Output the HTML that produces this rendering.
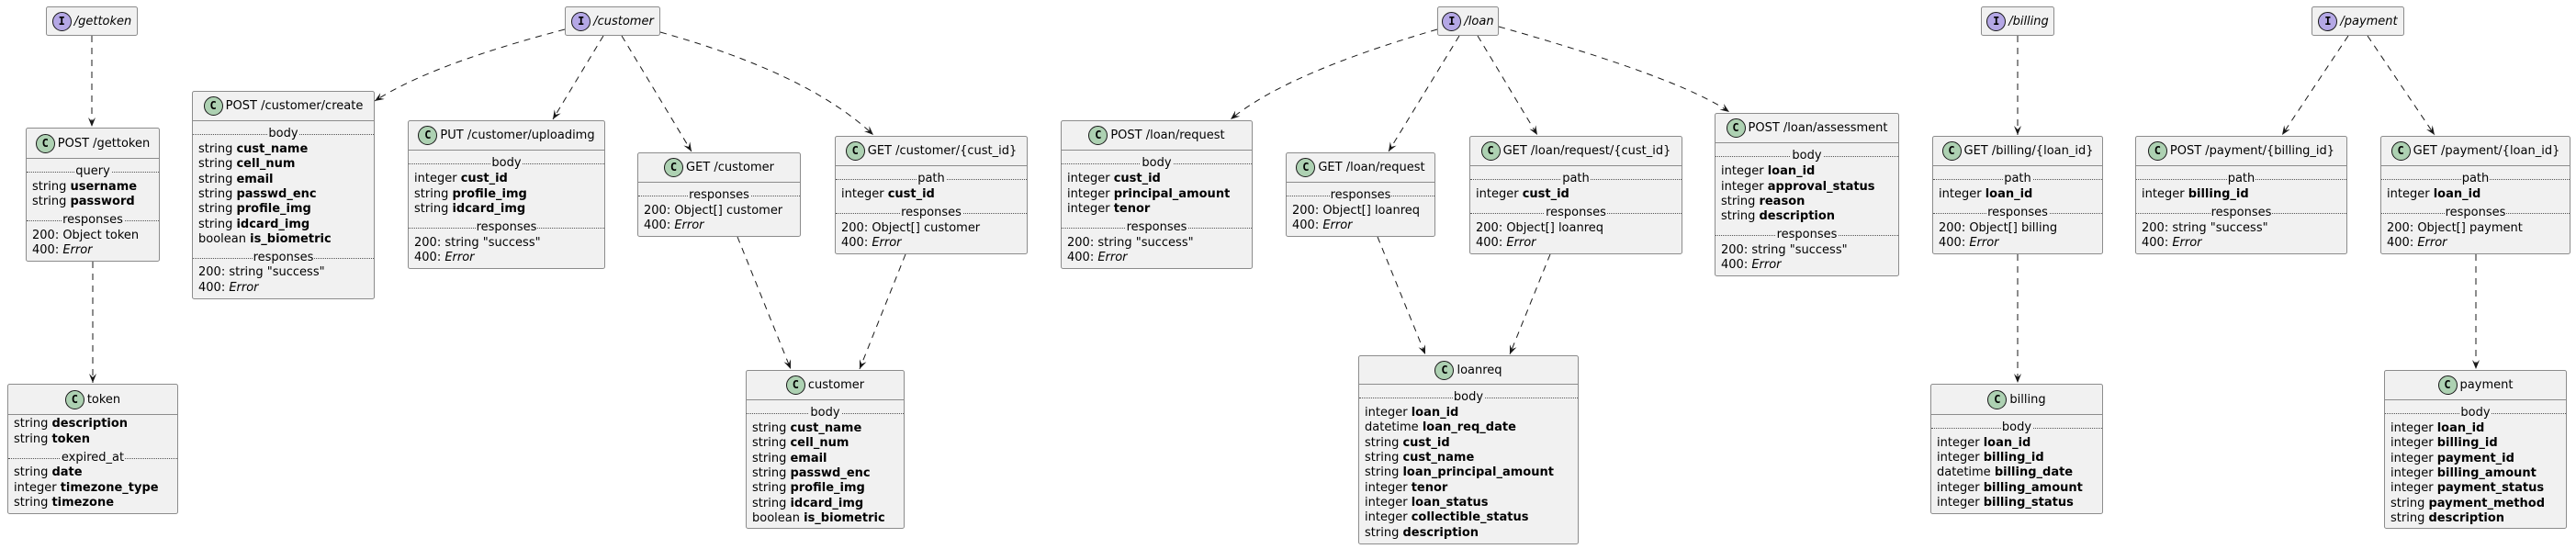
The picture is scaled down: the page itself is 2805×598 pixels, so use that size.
<!DOCTYPE html>
<html><head><meta charset="utf-8">
<style>
html,body{margin:0;padding:0;background:#fff;}
body{width:2805px;height:598px;position:relative;overflow:hidden;font-family:"DejaVu Sans","Liberation Sans",sans-serif;font-size:13px;color:#000;}
svg.ar{position:absolute;left:0;top:0;}
.b{position:absolute;background:#F1F1F1;border:1px solid #8c8c8c;border-radius:2.5px;box-sizing:border-box;}
.h{position:absolute;left:0;right:0;top:0;display:flex;align-items:center;justify-content:center;border-bottom:1px solid #8c8c8c;white-space:nowrap;}
.i .h{border-bottom:none;font-style:italic;}
.c{display:inline-block;width:21px;height:21px;border-radius:50%;background:#ADD1B2;border:1px solid #181818;box-sizing:border-box;text-align:center;line-height:19px;font-weight:bold;font-size:12px;margin-right:3px;font-style:normal;font-family:"DejaVu Sans Mono","Liberation Mono",monospace;}
.i .c{background:#B4A7E5;}
.r{position:absolute;left:6px;white-space:nowrap;line-height:16px;height:16px;}
.s{position:absolute;left:0;right:0;height:16px;line-height:16px;text-align:center;white-space:nowrap;}
.s::before{content:"";position:absolute;left:0;right:0;top:8px;border-top:1px dotted #555;}
.s span{position:relative;background:#F1F1F1;padding:0 1px;}
b{font-weight:bold;}
</style></head><body>
<svg class="ar" width="2805" height="598" viewBox="0 0 2805 598">
<defs><marker id="m" markerUnits="userSpaceOnUse" markerWidth="12" markerHeight="10" refX="10" refY="4" orient="auto"><path d="M0,0 L10,4 L0,8 L4,4 Z" fill="#181818"/></marker></defs>
<g fill="none" stroke="#181818" stroke-width="1" stroke-dasharray="7,6" marker-end="url(#m)">
<path d="M100,39 L100,138"/>
<path d="M101,285 L101,417"/>
<path d="M615,32 Q470,70 408,110"/>
<path d="M657,39 L602,130"/>
<path d="M677,39 L753,165"/>
<path d="M719,35 Q880,80 951,147"/>
<path d="M803,258 L861,402"/>
<path d="M986,277 L936,402"/>
<path d="M1565,32 Q1400,80 1340,130"/>
<path d="M1589,39 L1512,165"/>
<path d="M1609,39 L1674,147"/>
<path d="M1632,29 Q1830,85 1883,122"/>
<path d="M1500,258 L1552,386"/>
<path d="M1688,277 L1644,386"/>
<path d="M2197,39 L2197,147"/>
<path d="M2197,277 L2197,417"/>
<path d="M2557,39 L2485,147"/>
<path d="M2578,39 L2651,147"/>
<path d="M2696,277 L2696,402"/>
</g></svg>

<!-- interfaces -->
<div class="b i" style="left:50px;top:7px;width:100px;height:32px"><div class="h" style="height:30px"><span class="c">I</span>/gettoken</div></div>
<div class="b i" style="left:615px;top:7px;width:104px;height:32px"><div class="h" style="height:30px"><span class="c">I</span>/customer</div></div>
<div class="b i" style="left:1565px;top:7px;width:67px;height:32px"><div class="h" style="height:30px"><span class="c">I</span>/loan</div></div>
<div class="b i" style="left:2157px;top:7px;width:80px;height:32px"><div class="h" style="height:30px"><span class="c">I</span>/billing</div></div>
<div class="b i" style="left:2517px;top:7px;width:101px;height:32px"><div class="h" style="height:30px"><span class="c">I</span>/payment</div></div>

<!-- POST /gettoken -->
<div class="b" style="left:28px;top:139px;width:146px;height:146px">
<div class="h" style="height:32px"><span class="c">C</span>POST /gettoken</div>
<div class="s" style="top:39px"><span>query</span></div>
<div class="r" style="top:56px">string <b>username</b></div>
<div class="r" style="top:72px">string <b>password</b></div>
<div class="s" style="top:92px"><span>responses</span></div>
<div class="r" style="top:109px">200: Object token</div>
<div class="r" style="top:125px">400: <i>Error</i></div>
</div>

<!-- token -->
<div class="b" style="left:8px;top:418px;width:186px;height:142px">
<div class="h" style="height:32px"><span class="c">C</span>token</div>
<div class="r" style="top:35px">string <b>description</b></div>
<div class="r" style="top:52px">string <b>token</b></div>
<div class="s" style="top:72px"><span>expired_at</span></div>
<div class="r" style="top:88px">string <b>date</b></div>
<div class="r" style="top:105px">integer <b>timezone_type</b></div>
<div class="r" style="top:121px">string <b>timezone</b></div>
</div>

<!-- POST /customer/create -->
<div class="b" style="left:209px;top:99px;width:199px;height:227px">
<div class="h" style="height:31px"><span class="c">C</span>POST /customer/create</div>
<div class="s" style="top:38px"><span>body</span></div>
<div class="r" style="top:55px">string <b>cust_name</b></div>
<div class="r" style="top:71px">string <b>cell_num</b></div>
<div class="r" style="top:88px">string <b>email</b></div>
<div class="r" style="top:104px">string <b>passwd_enc</b></div>
<div class="r" style="top:120px">string <b>profile_img</b></div>
<div class="r" style="top:137px">string <b>idcard_img</b></div>
<div class="r" style="top:153px">boolean <b>is_biometric</b></div>
<div class="s" style="top:173px"><span>responses</span></div>
<div class="r" style="top:189px">200: string "success"</div>
<div class="r" style="top:206px">400: <i>Error</i></div>
</div>

<!-- PUT /customer/uploadimg -->
<div class="b" style="left:444px;top:131px;width:215px;height:162px">
<div class="h" style="height:31px"><span class="c">C</span>PUT /customer/uploadimg</div>
<div class="s" style="top:38px"><span>body</span></div>
<div class="r" style="top:55px">integer <b>cust_id</b></div>
<div class="r" style="top:72px">string <b>profile_img</b></div>
<div class="r" style="top:88px">string <b>idcard_img</b></div>
<div class="s" style="top:108px"><span>responses</span></div>
<div class="r" style="top:125px">200: string "success"</div>
<div class="r" style="top:141px">400: <i>Error</i></div>
</div>

<!-- GET /customer -->
<div class="b" style="left:694px;top:166px;width:178px;height:92px">
<div class="h" style="height:31px"><span class="c">C</span>GET /customer</div>
<div class="s" style="top:38px"><span>responses</span></div>
<div class="r" style="top:55px">200: Object[] customer</div>
<div class="r" style="top:71px">400: <i>Error</i></div>
</div>

<!-- GET /customer/{cust_id} -->
<div class="b" style="left:909px;top:148px;width:210px;height:129px">
<div class="h" style="height:31px"><span class="c">C</span>GET /customer/{cust_id}</div>
<div class="s" style="top:38px"><span>path</span></div>
<div class="r" style="top:55px">integer <b>cust_id</b></div>
<div class="s" style="top:75px"><span>responses</span></div>
<div class="r" style="top:92px">200: Object[] customer</div>
<div class="r" style="top:108px">400: <i>Error</i></div>
</div>

<!-- POST /loan/request -->
<div class="b" style="left:1155px;top:131px;width:209px;height:162px">
<div class="h" style="height:31px"><span class="c">C</span>POST /loan/request</div>
<div class="s" style="top:38px"><span>body</span></div>
<div class="r" style="top:55px">integer <b>cust_id</b></div>
<div class="r" style="top:72px">integer <b>principal_amount</b></div>
<div class="r" style="top:88px">integer <b>tenor</b></div>
<div class="s" style="top:108px"><span>responses</span></div>
<div class="r" style="top:125px">200: string "success"</div>
<div class="r" style="top:141px">400: <i>Error</i></div>
</div>

<!-- GET /loan/request -->
<div class="b" style="left:1400px;top:166px;width:163px;height:92px">
<div class="h" style="height:31px"><span class="c">C</span>GET /loan/request</div>
<div class="s" style="top:38px"><span>responses</span></div>
<div class="r" style="top:55px">200: Object[] loanreq</div>
<div class="r" style="top:71px">400: <i>Error</i></div>
</div>

<!-- GET /loan/request/{cust_id} -->
<div class="b" style="left:1600px;top:148px;width:232px;height:129px">
<div class="h" style="height:31px"><span class="c">C</span>GET /loan/request/{cust_id}</div>
<div class="s" style="top:38px"><span>path</span></div>
<div class="r" style="top:55px">integer <b>cust_id</b></div>
<div class="s" style="top:75px"><span>responses</span></div>
<div class="r" style="top:92px">200: Object[] loanreq</div>
<div class="r" style="top:108px">400: <i>Error</i></div>
</div>

<!-- POST /loan/assessment -->
<div class="b" style="left:1867px;top:123px;width:201px;height:178px">
<div class="h" style="height:31px"><span class="c">C</span>POST /loan/assessment</div>
<div class="s" style="top:38px"><span>body</span></div>
<div class="r" style="top:55px">integer <b>loan_id</b></div>
<div class="r" style="top:72px">integer <b>approval_status</b></div>
<div class="r" style="top:88px">string <b>reason</b></div>
<div class="r" style="top:104px">string <b>description</b></div>
<div class="s" style="top:124px"><span>responses</span></div>
<div class="r" style="top:141px">200: string "success"</div>
<div class="r" style="top:157px">400: <i>Error</i></div>
</div>

<!-- GET /billing/{loan_id} -->
<div class="b" style="left:2104px;top:148px;width:186px;height:129px">
<div class="h" style="height:31px"><span class="c">C</span>GET /billing/{loan_id}</div>
<div class="s" style="top:38px"><span>path</span></div>
<div class="r" style="top:55px">integer <b>loan_id</b></div>
<div class="s" style="top:75px"><span>responses</span></div>
<div class="r" style="top:92px">200: Object[] billing</div>
<div class="r" style="top:108px">400: <i>Error</i></div>
</div>

<!-- POST /payment/{billing_id} -->
<div class="b" style="left:2325px;top:148px;width:231px;height:129px">
<div class="h" style="height:31px"><span class="c">C</span>POST /payment/{billing_id}</div>
<div class="s" style="top:38px"><span>path</span></div>
<div class="r" style="top:55px">integer <b>billing_id</b></div>
<div class="s" style="top:75px"><span>responses</span></div>
<div class="r" style="top:92px">200: string "success"</div>
<div class="r" style="top:108px">400: <i>Error</i></div>
</div>

<!-- GET /payment/{loan_id} -->
<div class="b" style="left:2592px;top:148px;width:207px;height:129px">
<div class="h" style="height:31px"><span class="c">C</span>GET /payment/{loan_id}</div>
<div class="s" style="top:38px"><span>path</span></div>
<div class="r" style="top:55px">integer <b>loan_id</b></div>
<div class="s" style="top:75px"><span>responses</span></div>
<div class="r" style="top:92px">200: Object[] payment</div>
<div class="r" style="top:108px">400: <i>Error</i></div>
</div>

<!-- customer -->
<div class="b" style="left:812px;top:403px;width:173px;height:173px">
<div class="h" style="height:31px"><span class="c">C</span>customer</div>
<div class="s" style="top:38px"><span>body</span></div>
<div class="r" style="top:55px">string <b>cust_name</b></div>
<div class="r" style="top:71px">string <b>cell_num</b></div>
<div class="r" style="top:88px">string <b>email</b></div>
<div class="r" style="top:104px">string <b>passwd_enc</b></div>
<div class="r" style="top:120px">string <b>profile_img</b></div>
<div class="r" style="top:137px">string <b>idcard_img</b></div>
<div class="r" style="top:153px">boolean <b>is_biometric</b></div>
</div>

<!-- loanreq -->
<div class="b" style="left:1479px;top:387px;width:240px;height:206px">
<div class="h" style="height:30px"><span class="c">C</span>loanreq</div>
<div class="s" style="top:37px"><span>body</span></div>
<div class="r" style="top:54px">integer <b>loan_id</b></div>
<div class="r" style="top:70px">datetime <b>loan_req_date</b></div>
<div class="r" style="top:87px">string <b>cust_id</b></div>
<div class="r" style="top:103px">string <b>cust_name</b></div>
<div class="r" style="top:119px">string <b>loan_principal_amount</b></div>
<div class="r" style="top:136px">integer <b>tenor</b></div>
<div class="r" style="top:152px">integer <b>loan_status</b></div>
<div class="r" style="top:168px">integer <b>collectible_status</b></div>
<div class="r" style="top:185px">string <b>description</b></div>
</div>

<!-- billing -->
<div class="b" style="left:2102px;top:418px;width:188px;height:142px">
<div class="h" style="height:32px"><span class="c">C</span>billing</div>
<div class="s" style="top:39px"><span>body</span></div>
<div class="r" style="top:56px">integer <b>loan_id</b></div>
<div class="r" style="top:72px">integer <b>billing_id</b></div>
<div class="r" style="top:88px">datetime <b>billing_date</b></div>
<div class="r" style="top:105px">integer <b>billing_amount</b></div>
<div class="r" style="top:121px">integer <b>billing_status</b></div>
</div>

<!-- payment -->
<div class="b" style="left:2596px;top:403px;width:199px;height:173px">
<div class="h" style="height:31px"><span class="c">C</span>payment</div>
<div class="s" style="top:38px"><span>body</span></div>
<div class="r" style="top:55px">integer <b>loan_id</b></div>
<div class="r" style="top:71px">integer <b>billing_id</b></div>
<div class="r" style="top:88px">integer <b>payment_id</b></div>
<div class="r" style="top:104px">integer <b>billing_amount</b></div>
<div class="r" style="top:120px">integer <b>payment_status</b></div>
<div class="r" style="top:137px">string <b>payment_method</b></div>
<div class="r" style="top:153px">string <b>description</b></div>
</div>
</body></html>
